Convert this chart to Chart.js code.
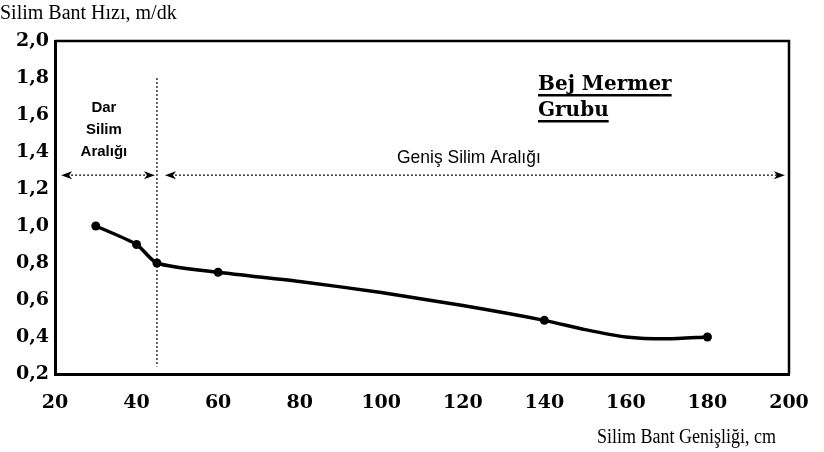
<!DOCTYPE html>
<html lang="tr">
<head>
<meta charset="utf-8">
<title>Silim Bant Hızı - Bej Mermer Grubu</title>
<script src="https://cdn.jsdelivr.net/npm/chart.js@4/dist/chart.umd.min.js"></script>
<style>
    html, body { margin: 0; padding: 0; background: #fff; }
    #chart { display: block; }
</style>
</head>
<body>
<canvas id="chart" width="824" height="452"></canvas>
<script>
// Data
const bandWidths = [30, 40, 45, 60, 80, 100, 120, 140, 150, 160, 170, 180];
const bandSpeeds = [1.0, 0.9, 0.8, 0.75, 0.70, 0.64, 0.57, 0.49, 0.44, 0.40, 0.39, 0.40];
const measured   = [true, true, true, true, false, false, false, true, false, false, false, true];

const xMin = 20, xMax = 200, xStep = 20;
const yMin = 0.2, yMax = 2.0, yStep = 0.2;

const yTitle = 'Silim Bant Hızı, m/dk';
const xTitle = 'Silim Bant Genişliği, cm';
const narrowLabel = ['Dar', 'Silim', 'Aralığı'];
const wideLabel = 'Geniş Silim Aralığı';
const groupLabel = ['Bej Mermer', 'Grubu'];

// boundary between the two ranges (cm) and height of the range arrows (m/dk)
const rangeSplit = 45;
const arrowLevel = 1.275;

const SERIF = '"Liberation Serif", "Times New Roman", serif';
const TICK_FONT = '"DejaVu Serif", serif';
const SANS = '"Liberation Sans", Arial, sans-serif';

function arrowHead(ctx, x, y, dir) {
    ctx.beginPath();
    ctx.moveTo(x, y);
    ctx.lineTo(x - dir * 11, y - 4);
    ctx.lineTo(x - dir * 8, y);
    ctx.lineTo(x - dir * 11, y + 4);
    ctx.closePath();
    ctx.fill();
}

function dottedArrow(ctx, x1, x2, y) {
    ctx.save();
    ctx.setLineDash([2, 2]);
    ctx.lineWidth = 1.2;
    ctx.beginPath();
    ctx.moveTo(x1 + 6, y);
    ctx.lineTo(x2 - 6, y);
    ctx.stroke();
    ctx.restore();
    arrowHead(ctx, x1, y, -1);
    arrowHead(ctx, x2, y, 1);
}

const annotations = {
    id: 'annotations',
    afterDraw(chart) {
        const { ctx, chartArea: a, scales: { x, y } } = chart;
        ctx.save();
        ctx.fillStyle = '#000';
        ctx.strokeStyle = '#000';

        // top and right frame
        ctx.lineWidth = 2.5;
        ctx.beginPath();
        ctx.moveTo(a.left, a.top);
        ctx.lineTo(a.right, a.top);
        ctx.lineTo(a.right, a.bottom);
        ctx.stroke();

        // range split line
        const sx = x.getPixelForValue(rangeSplit);
        ctx.save();
        ctx.setLineDash([2, 2]);
        ctx.lineWidth = 1.2;
        ctx.beginPath();
        ctx.moveTo(sx, y.getPixelForValue(1.8));
        ctx.lineTo(sx, y.getPixelForValue(0.24));
        ctx.stroke();
        ctx.restore();

        // range arrows
        const ay = y.getPixelForValue(arrowLevel);
        dottedArrow(ctx, x.getPixelForValue(21.5), sx - 2, ay);
        dottedArrow(ctx, sx + 8, x.getPixelForValue(199), ay);

        // range labels
        ctx.textAlign = 'center';
        ctx.textBaseline = 'middle';
        ctx.font = 'bold 15px ' + SANS;
        const nx = x.getPixelForValue(32);
        narrowLabel.forEach((t, i) => ctx.fillText(t, nx, 108 + i * 22));
        ctx.font = '19px ' + SANS;
        ctx.save();
        ctx.translate(x.getPixelForValue(121.5), 158);
        ctx.scale(0.92, 1);
        ctx.fillText(wideLabel, 0, 0);
        ctx.restore();

        // group label, underlined
        ctx.textAlign = 'left';
        ctx.textBaseline = 'alphabetic';
        ctx.font = 'bold 20px ' + TICK_FONT;
        const gx = 538;
        groupLabel.forEach((t, i) => {
            const by = 90 + i * 26;
            ctx.fillText(t, gx, by);
            const w = ctx.measureText(t).width;
            ctx.fillRect(gx, by + 4, w, 2.5);
        });

        // axis titles
        ctx.font = '20px ' + SERIF;
        ctx.textBaseline = 'middle';
        ctx.fillText(yTitle, 0, 14);
        ctx.save();
        ctx.translate(776, 438);
        ctx.scale(0.9, 1);
        ctx.textAlign = 'right';
        ctx.fillText(xTitle, 0, 0);
        ctx.restore();
        ctx.restore();
    }
};

const fmt = v => v.toFixed(1).replace('.', ',');

new Chart(document.getElementById('chart'), {
    type: 'line',
    data: {
        datasets: [{
            data: bandWidths.map((w, i) => ({ x: w, y: bandSpeeds[i] })),
            borderColor: '#000',
            backgroundColor: '#000',
            borderWidth: 3.5,
            tension: 0.25,
            pointRadius: measured.map(m => (m ? 4.5 : 0)),
            pointHoverRadius: 0,
            pointBorderWidth: 0
        }]
    },
    options: {
        responsive: false,
        animation: false,
        events: [],
        layout: { padding: { top: 41, right: 35, left: 0, bottom: 0 } },
        plugins: {
            legend: { display: false },
            tooltip: { enabled: false }
        },
        scales: {
            x: {
                type: 'linear',
                min: xMin,
                max: xMax,
                afterFit(scale) {
                    scale.height = 78;
                    scale.paddingLeft = 0;
                    scale.paddingRight = 0;
                },
                grid: { display: false, drawTicks: false },
                border: { display: true, color: '#000', width: 3 },
                ticks: {
                    stepSize: xStep,
                    color: '#000',
                    padding: 18,
                    maxRotation: 0,
                    font: { family: TICK_FONT, size: 19, weight: 'bold' }
                }
            },
            y: {
                min: yMin,
                max: yMax,
                afterFit(scale) { scale.width = 55; },
                grid: { display: false, drawTicks: false },
                border: { display: true, color: '#000', width: 3 },
                ticks: {
                    stepSize: yStep,
                    color: '#000',
                    padding: 6,
                    callback: v => fmt(v),
                    font: { family: TICK_FONT, size: 19, weight: 'bold' }
                }
            }
        }
    },
    plugins: [annotations]
});
</script>
</body>
</html>
